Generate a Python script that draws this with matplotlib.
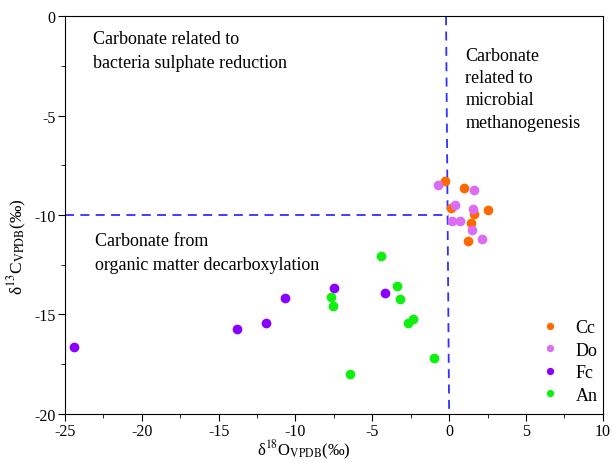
import matplotlib
matplotlib.use('Agg')
import matplotlib.pyplot as plt
from matplotlib.ticker import MultipleLocator

plt.rcParams['font.family'] = ['Liberation Serif', 'DejaVu Serif']
plt.rcParams['mathtext.fontset'] = 'stix'

# d18O / d13C (per mil, VPDB) by carbonate type
cc_o = [-0.28, 0.98, 0.11, 2.54, 1.61, 1.41, 1.24]
cc_c = [-8.30, -8.63, -9.63, -9.74, -9.96, -10.41, -11.29]

do_o = [-0.71, 1.61, 0.37, 1.57, 0.16, 0.74, 1.46, 2.15]
do_c = [-8.51, -8.76, -9.51, -9.68, -10.29, -10.29, -10.76, -11.20]

fc_o = [-24.39, -13.83, -11.92, -10.71, -7.48, -4.16]
fc_c = [-16.62, -15.73, -15.41, -14.20, -13.67, -13.92]

an_o = [-7.71, -7.54, -6.48, -4.46, -3.36, -3.22, -2.38, -2.67, -0.99]
an_c = [-14.11, -14.58, -18.02, -12.07, -13.55, -14.23, -15.25, -15.45, -17.21]

series = [('Cc', cc_o, cc_c, '#ff6a00'),
          ('Do', do_o, do_c, '#dc6cf2'),
          ('Fc', fc_o, fc_c, '#8a00ff'),
          ('An', an_o, an_c, '#10f010')]

fig = plt.figure(figsize=(6.12, 4.64), dpi=100)
ax = fig.add_axes([0.106, 0.106, 0.879, 0.857])

# boundary lines between the isotope fields
ax.plot([-25, 0], [-10, -10], ls=(0, (5, 3.5)), color='#3030ff', lw=1.3, zorder=1)
ax.plot([-0.2, 0], [0, -20], ls=(0, (5, 3.5)), color='#3030ff', lw=1.3, zorder=1)

for name, xo, yc, col in series:
    ax.plot(xo, yc, 'o', ms=7, color=col, mec='none', label=name, zorder=3)

ax.text(-23.2, -0.7, 'Carbonate related to\nbacteria sulphate reduction',
        fontsize=13, va='top', ha='left', linespacing=1.55)
ax.text(1.05, -1.55, 'Carbonate\nrelated to\nmicrobial\nmethanogenesis',
        fontsize=13, va='top', ha='left', linespacing=1.4)
ax.text(-23.05, -10.85, 'Carbonate from\norganic matter decarboxylation',
        fontsize=13, va='top', ha='left', linespacing=1.55)

ax.set_xlim(-25, 10)
ax.set_ylim(-20, 0)
ax.xaxis.set_major_locator(MultipleLocator(5))
ax.xaxis.set_minor_locator(MultipleLocator(2.5))
ax.yaxis.set_major_locator(MultipleLocator(5))
ax.yaxis.set_minor_locator(MultipleLocator(2.5))
ax.tick_params(which='both', direction='out', top=False, right=False, labelsize=11.5)
ax.tick_params(which='major', length=5, pad=1.5)
ax.tick_params(which='minor', length=3)
ax.set_xticklabels([f'{int(v)}' for v in ax.get_xticks()])
ax.set_yticklabels([f'{int(v)}' for v in ax.get_yticks()])

ax.set_xlabel('δ$^{18}$O$_{\\rm VPDB}$(‰)', fontsize=12)
ax.set_ylabel('δ$^{13}$C$_{\\rm VPDB}$(‰)', fontsize=12.5)
ax.xaxis.set_label_coords(0.444, -0.061)
ax.yaxis.set_label_coords(-0.066, 0.424)

leg = ax.legend(loc='lower right', frameon=False, fontsize=13, markerscale=0.75,
                handlelength=1.6, handletextpad=0.6, labelspacing=0.3,
                borderaxespad=0.1, borderpad=0.2, bbox_to_anchor=(1.0, 0.012))

fig.savefig('out.png', dpi=100)
